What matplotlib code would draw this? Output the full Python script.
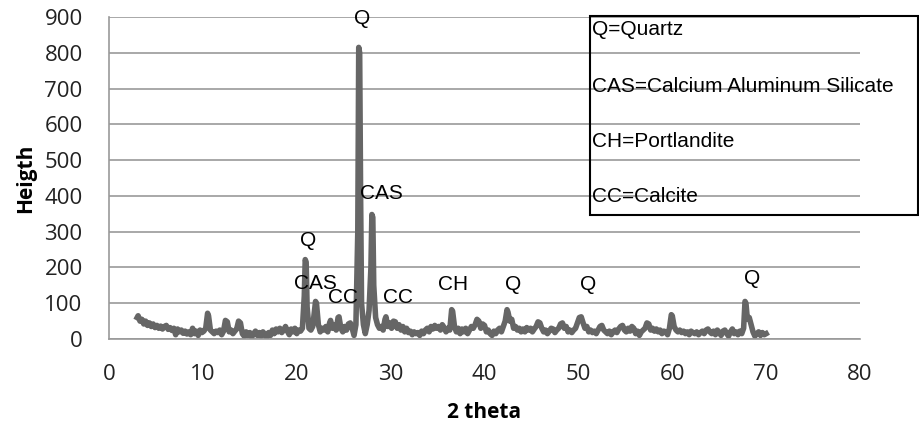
import matplotlib.pyplot as plt
from matplotlib.patches import Rectangle

# XRD pattern (2 theta vs intensity)
two_theta = [3.0, 3.1, 3.3, 3.5, 3.7, 3.9, 4.1, 4.3, 4.5, 4.7, 4.9, 5.1, 5.3, 5.5, 5.7, 5.9,
             6.1, 6.3, 6.5, 6.7, 6.9, 7.1, 7.3, 7.5, 7.7, 7.9, 8.1, 8.3, 8.5, 8.7, 8.9, 9.1,
             9.3, 9.5, 9.7, 9.9, 10.1, 10.3, 10.5, 10.6, 10.8, 11.0, 11.2, 11.4, 11.6, 11.8,
             12.0, 12.2, 12.4, 12.6, 12.8, 13.0, 13.2, 13.4, 13.6, 13.8, 14.0, 14.2, 14.4,
             14.6, 14.8, 15.0, 15.2, 15.4, 15.6, 15.8, 16.0, 16.2, 16.4, 16.6, 16.8, 17.0,
             17.2, 17.4, 17.6, 17.8, 18.0, 18.2, 18.4, 18.6, 18.8, 19.0, 19.2, 19.4, 19.6,
             19.8, 20.0, 20.2, 20.4, 20.6, 20.8, 20.9, 21.0, 21.1, 21.3, 21.5, 21.7, 21.9,
             22.0, 22.1, 22.3, 22.5, 22.7, 22.9, 23.1, 23.3, 23.5, 23.6, 23.8, 24.0, 24.2,
             24.4, 24.5, 24.7, 24.9, 25.1, 25.3, 25.5, 25.7, 25.9, 26.1, 26.3, 26.5, 26.6,
             26.7, 26.8, 26.9, 27.1, 27.3, 27.5, 27.7, 27.9, 28.0, 28.1, 28.2, 28.4, 28.6,
             28.8, 29.0, 29.2, 29.4, 29.5, 29.7, 29.9, 30.1, 30.3, 30.5, 30.7, 30.9, 31.1,
             31.3, 31.5, 31.7, 31.9, 32.1, 32.3, 32.5, 32.7, 32.9, 33.1, 33.3, 33.5, 33.7,
             33.9, 34.1, 34.3, 34.5, 34.7, 34.9, 35.1, 35.3, 35.5, 35.7, 35.9, 36.1, 36.3,
             36.5, 36.6, 36.8, 37.0, 37.2, 37.4, 37.6, 37.8, 38.0, 38.2, 38.4, 38.6, 38.8,
             39.0, 39.2, 39.4, 39.6, 39.8, 40.0, 40.2, 40.4, 40.6, 40.8, 41.0, 41.2, 41.4,
             41.6, 41.8, 42.0, 42.2, 42.4, 42.5, 42.7, 42.9, 43.1, 43.3, 43.5, 43.7, 43.9,
             44.1, 44.3, 44.5, 44.7, 44.9, 45.1, 45.3, 45.5, 45.7, 45.9, 46.1, 46.3, 46.5,
             46.7, 46.9, 47.1, 47.3, 47.5, 47.7, 47.9, 48.1, 48.3, 48.5, 48.7, 48.9, 49.1,
             49.3, 49.5, 49.7, 49.9, 50.1, 50.3, 50.5, 50.7, 50.9, 51.1, 51.3, 51.5, 51.7,
             51.9, 52.1, 52.3, 52.5, 52.7, 52.9, 53.1, 53.3, 53.5, 53.7, 53.9, 54.1, 54.3,
             54.5, 54.7, 54.9, 55.1, 55.3, 55.5, 55.7, 55.9, 56.1, 56.3, 56.5, 56.7, 56.9,
             57.1, 57.3, 57.5, 57.7, 57.9, 58.1, 58.3, 58.5, 58.7, 58.9, 59.1, 59.3, 59.5,
             59.7, 59.9, 60.0, 60.2, 60.4, 60.6, 60.8, 61.0, 61.2, 61.4, 61.6, 61.8, 62.0,
             62.2, 62.4, 62.6, 62.8, 63.0, 63.2, 63.4, 63.6, 63.8, 64.0, 64.2, 64.4, 64.6,
             64.8, 65.0, 65.2, 65.4, 65.6, 65.8, 66.0, 66.2, 66.4, 66.6, 66.8, 67.0, 67.2,
             67.4, 67.6, 67.75, 67.85, 68.0, 68.2, 68.4, 68.6, 68.8, 69.0, 69.2, 69.4, 69.6,
             69.8, 70.0]

intensity = [60, 65, 50, 55, 42, 50, 38, 45, 35, 42, 32, 38, 30, 36, 28, 35,
             38, 27, 32, 24, 30, 12, 28, 20, 25, 16, 22, 14, 20, 12, 30, 15,
             22, 10, 25, 18, 22, 30, 72, 65, 25, 20, 15, 22, 18, 25,
             12, 22, 52, 48, 20, 25, 15, 22, 28, 50, 45, 15, 8,
             20, 10, 18, 5, 15, 22, 10, 18, 8, 20, 12, 5, 18,
             10, 25, 15, 28, 20, 30, 18, 25, 35, 22, 12, 28, 20,
             30, 15, 25, 22, 30, 120, 222, 215, 90, 30, 25, 35, 80,
             105, 100, 40, 20, 30, 25, 35, 20, 45, 52, 30, 40, 25,
             60, 62, 30, 20, 35, 25, 42, 45, 30, 10, 40, 300, 815,
             800, 400, 100, 40, 15, 40, 80, 200, 348, 340, 150, 60, 40,
             30, 35, 25, 55, 62, 35, 45, 30, 50, 48, 30, 40, 25,
             35, 20, 30, 18, 22, 12, 20, 15, 18, 10, 22, 15, 25,
             30, 20, 35, 28, 38, 30, 35, 25, 40, 32, 20, 30, 25,
             82, 78, 35, 20, 30, 15, 28, 20, 30, 15, 25, 35, 30,
             40, 55, 50, 30, 42, 38, 20, 25, 15, 10, 22, 15, 25,
             30, 20, 35, 50, 82, 75, 50, 55, 30, 35, 25, 30, 20,
             28, 20, 32, 25, 30, 20, 28, 35, 48, 45, 30, 20, 25,
             15, 22, 30, 28, 18, 25, 30, 42, 45, 30, 35, 20, 25,
             18, 25, 30, 45, 60, 62, 45, 30, 35, 20, 25, 18, 22,
             15, 25, 35, 38, 25, 20, 15, 22, 12, 20, 25, 18, 28,
             35, 38, 25, 20, 30, 22, 35, 30, 15, 22, 10, 20, 25,
             30, 45, 42, 25, 30, 22, 28, 20, 25, 15, 22, 20, 12,
             30, 68, 65, 35, 25, 20, 25, 18, 22, 15, 20, 12, 22,
             18, 15, 20, 12, 18, 22, 15, 25, 28, 20, 15, 22, 12,
             25, 18, 10, 22, 25, 15, 8, 20, 28, 15, 20, 12, 22,
             15, 30, 105, 100, 55, 60, 40, 20, 8, 15, 20, 10, 18,
             12, 15]

# peak labels: text, x, y
peak_text = ['Q', 'CAS', 'Q', 'CAS', 'CC', 'CC', 'CH', 'Q', 'Q', 'Q']
peak_x = [27.0, 29.0, 21.2, 22.0, 24.9, 30.8, 36.6, 43.0, 51.0, 68.5]
peak_y = [895, 408, 274, 156, 115, 115, 153, 153, 153, 168]

key_lines = ['Q=Quartz', 'CAS=Calcium Aluminum Silicate', 'CH=Portlandite', 'CC=Calcite']

fig = plt.figure(figsize=(9.2, 4.3), dpi=100, facecolor='white')
ax = fig.add_axes([0.1185, 0.2116, 0.8163, 0.7489])

ax.plot(two_theta, intensity, color='#666666', linewidth=4, solid_joinstyle='round')

ax.set_xlim(0, 80)
ax.set_ylim(0, 900)
ax.set_xticks(range(0, 81, 10))
ax.set_yticks(range(0, 901, 100))
ax.yaxis.grid(True, color='#999999', linewidth=1.2)
ax.set_axisbelow(True)
ax.tick_params(axis='y', length=0, labelsize=16, pad=19)
ax.tick_params(axis='x', length=0, labelsize=16, pad=18)
for lab in ax.get_xticklabels() + ax.get_yticklabels():
    lab.set_fontfamily('Open Sans')
    lab.set_color('#222222')
for s in ['top', 'right']:
    ax.spines[s].set_visible(False)
for s in ['left', 'bottom']:
    ax.spines[s].set_color('#999999')
    ax.spines[s].set_linewidth(1.2)

ax.set_xlabel('2 theta', fontsize=15, fontweight='bold', family='Open Sans', labelpad=12)
ax.set_ylabel('Heigth', fontsize=15, fontweight='bold', family='Open Sans', labelpad=6)

for t, x, y in zip(peak_text, peak_x, peak_y):
    ax.text(x, y, t, ha='center', va='center', fontsize=15, family='Liberation Sans')

# key box on the right, no fill so gridlines show through
fig.patches.append(Rectangle((0.641, 0.5), 0.357, 0.463, transform=fig.transFigure,
                             fill=False, edgecolor='black', linewidth=1.5))
key_y = [0.932, 0.798, 0.672, 0.543]
for t, y in zip(key_lines, key_y):
    fig.text(0.643, y, t, ha='left', va='center', fontsize=15, family='Liberation Sans')

fig.savefig('out.png', dpi=100)
